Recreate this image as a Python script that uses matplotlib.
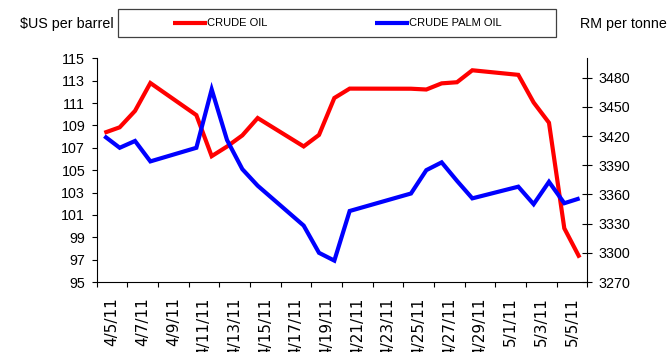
import matplotlib
matplotlib.use("Agg")
import matplotlib.pyplot as plt
from matplotlib.lines import Line2D
from matplotlib.patches import Rectangle
import datetime as dt

# Trading days (April-May 2011)
dates = ["2011-04-05", "2011-04-06", "2011-04-07", "2011-04-08",
         "2011-04-11", "2011-04-12", "2011-04-13", "2011-04-14", "2011-04-15",
         "2011-04-18", "2011-04-19", "2011-04-20", "2011-04-21",
         "2011-04-25", "2011-04-26", "2011-04-27", "2011-04-28", "2011-04-29",
         "2011-05-02", "2011-05-03", "2011-05-04", "2011-05-05", "2011-05-06"]

# Crude oil, $US per barrel
crude_oil = [108.34, 108.83, 110.30, 112.79,
             109.92, 106.25, 107.11, 108.11, 109.66,
             107.12, 108.15, 111.45, 112.29,
             112.28, 112.21, 112.76, 112.86, 113.93,
             113.52, 111.05, 109.24, 99.80, 97.18]

# Crude palm oil, RM per tonne
palm_oil = [3420, 3408, 3415, 3394,
            3408, 3468, 3416, 3386, 3369,
            3328, 3300, 3292, 3343,
            3361, 3385, 3393, 3374, 3356,
            3368, 3350, 3373, 3351, 3356]

tick_labels = ["4/5/11", "4/7/11", "4/9/11", "4/11/11", "4/13/11", "4/15/11",
               "4/17/11", "4/19/11", "4/21/11", "4/23/11", "4/25/11", "4/27/11",
               "4/29/11", "5/1/11", "5/3/11", "5/5/11"]

W, H = 672, 352
SANS = ["Liberation Sans", "DejaVu Sans"]

fig = plt.figure(figsize=(W / 100, H / 100), dpi=100)

def fx(px):
    return px / W

def fy(py):
    return 1 - py / H

left, right, top, bottom = 96.7, 587.3, 58.3, 282.0
ax = fig.add_axes([fx(left), fy(bottom), fx(right) - fx(left), fy(top) - fy(bottom)])
ax2 = ax.twinx()

# each day occupies one slot; points sit at the middle of the day
x = [dt.datetime.strptime(d, "%Y-%m-%d") + dt.timedelta(hours=12) for d in dates]
start = dt.datetime(2011, 4, 5)
end = dt.datetime(2011, 5, 7)

l1, = ax.plot(x, crude_oil, color="#FF0000", lw=3.0, solid_joinstyle="miter",
              solid_capstyle="butt", label="CRUDE OIL", zorder=3)
l2, = ax2.plot(x, palm_oil, color="#0000FF", lw=3.0, solid_joinstyle="miter",
               solid_capstyle="butt", label="CRUDE PALM OIL", zorder=3)

ax.set_xlim(start, end)
ax.set_ylim(95, 115)
ax.set_yticks(range(95, 116, 2))
ax2.set_ylim(3270, 3500)
ax2.set_yticks(range(3270, 3481, 30))

major = [start + dt.timedelta(days=2 * i) for i in range(17)]
minor = [start + dt.timedelta(days=2 * i + 1) for i in range(16)]
ax.set_xticks(major)
ax.set_xticklabels([])
ax.set_xticks(minor, minor=True)
ax.set_xticklabels(tick_labels, minor=True, rotation=90, fontsize=11,
                   family="DejaVu Sans")
ax.tick_params(axis="x", which="major", direction="out", length=3.6, width=0.8)
ax.tick_params(axis="x", which="minor", length=0, pad=11)

ax.tick_params(axis="y", direction="out", length=3.8, width=0.8, pad=4.5)
ax2.tick_params(axis="y", direction="inout", length=7.2, width=0.8, pad=4.5)
for lab in ax.get_yticklabels() + ax2.get_yticklabels():
    lab.set_family(SANS)
    lab.set_fontsize(10.3)

for a in (ax, ax2):
    a.spines["top"].set_visible(False)
    for s in ("left", "right", "bottom"):
        a.spines[s].set_linewidth(0.8)
        a.spines[s].set_color("black")
ax.spines["right"].set_visible(False)
ax2.spines["left"].set_visible(False)
ax2.spines["bottom"].set_visible(False)
ax.set_facecolor("white")

# axis captions
fig.text(fx(20), fy(24), "$US per barrel", ha="left", va="center",
         fontsize=10.3, family=SANS)
fig.text(fx(580), fy(24), "RM per tonne", ha="left", va="center",
         fontsize=10.3, family=SANS)

# legend box with both series
fig.add_artist(Rectangle((fx(118), fy(37)), fx(556) - fx(118), fy(9) - fy(37),
                         transform=fig.transFigure, fill=False,
                         edgecolor="#404040", lw=0.9))
for line, x0, x1 in ((l1, 173, 207), (l2, 375, 409)):
    fig.add_artist(Line2D([fx(x0), fx(x1)], [fy(23), fy(23)],
                          transform=fig.transFigure, color=line.get_color(),
                          lw=3.0, solid_capstyle="butt"))
    fig.text(fx(x1), fy(23), line.get_label(), ha="left", va="center",
             fontsize=8, family=SANS)

fig.savefig("out.png", dpi=100)
